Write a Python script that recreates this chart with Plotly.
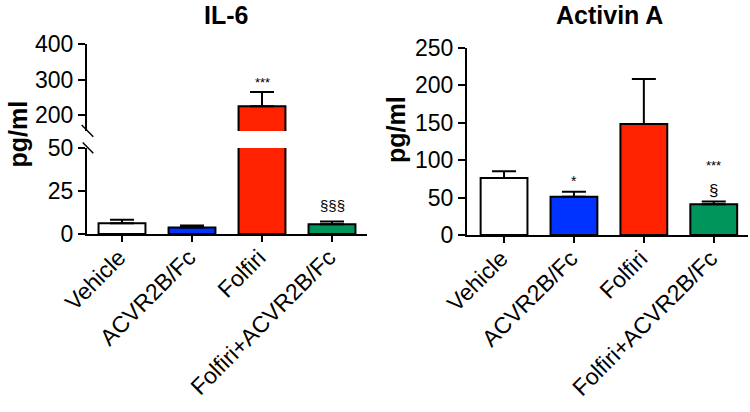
import plotly.graph_objects as go

categories = ["Vehicle", "ACVR2B/Fc", "Folfiri", "Folfiri+ACVR2B/Fc"]
colors = ["#FFFFFF", "#0033FF", "#FF2200", "#00955A"]

il6_values = [6.3, 3.8, 225, 5.7]
il6_errors = [2.0, 1.2, 40, 1.5]
il6_marks = ["", "", "***", "§§§"]

activin_values = [76, 51, 148, 41]
activin_errors = [9, 6.5, 60, 3.5]
activin_marks_star = ["", "*", "", "***"]
activin_marks_sect = ["", "", "", "§"]

il6_break_low = 50
il6_break_high = 155

FONT = "Liberation Sans, Arial, sans-serif"

W, H = 750, 412
def px(x):
    return x / W
def py(y):
    return 1 - y / H

fig = go.Figure()

def bar(vals, errs, xa, ya):
    return go.Bar(
        x=categories, y=vals,
        marker=dict(color=colors, line=dict(color="black", width=2)),
        error_y=dict(type="data", array=errs, arrayminus=[0]*len(errs), symmetric=False,
                     color="black", thickness=2, width=12),
        xaxis=xa, yaxis=ya, showlegend=False, hoverinfo="skip",
    )

# IL-6 lower segment
fig.add_trace(bar(il6_values, [e if v <= il6_break_low else 0 for v, e in zip(il6_values, il6_errors)], "x", "y"))
# IL-6 upper segment
up_vals = [v if v > il6_break_high else None for v in il6_values]
up_errs = [e if v > il6_break_high else 0 for v, e in zip(il6_values, il6_errors)]
fig.add_trace(bar(up_vals, up_errs, "x2", "y2"))
# Activin A
fig.add_trace(bar(activin_values, activin_errors, "x3", "y3"))

axis_common = dict(showline=True, linecolor="black", linewidth=2, ticks="outside",
                   tickcolor="black", tickwidth=2, showgrid=False, zeroline=False,
                   automargin=False)
yfont = dict(family=FONT, size=23, color="black")
xfont = dict(family=FONT, size=23, color="black")
xlab = dict(tickangle=-45, ticklen=6, tickfont=xfont, ticklabelstandoff=-7, ticklabelshift=-3)

fig.update_layout(
    width=W, height=H, margin=dict(l=0, r=0, t=0, b=0, autoexpand=False),
    paper_bgcolor="white", plot_bgcolor="rgba(0,0,0,0)",
    bargap=0.33,
    xaxis=dict(domain=[px(87), px(367)], range=[-0.5, 3.5], anchor="y", **xlab, **axis_common),
    yaxis=dict(domain=[py(234), py(148)], range=[0, il6_break_low], anchor="x",
               tickvals=[0, 25, 50], ticklen=7, tickfont=yfont, **axis_common),
    xaxis2=dict(domain=[px(87), px(367)], range=[-0.5, 3.5], anchor="y2",
                visible=False, matches="x", automargin=False),
    yaxis2=dict(domain=[py(131), py(44)], range=[il6_break_high, 400], anchor="x2",
                tickvals=[200, 300, 400], ticklen=7, tickfont=yfont, **axis_common),
    xaxis3=dict(domain=[px(467), px(748)], range=[-0.53, 3.49], anchor="y3", **xlab, **axis_common),
    yaxis3=dict(domain=[py(235), py(47.5)], range=[0, 250], anchor="x3",
                tickvals=[0, 50, 100, 150, 200, 250], ticklen=7, tickfont=yfont, **axis_common),
)

def label(text, x, y, size, angle=0):
    return dict(text=text, x=px(x), y=py(y), xref="paper", yref="paper",
                xanchor="center", yanchor="middle", textangle=angle,
                showarrow=False, font=dict(family=FONT, size=size, color="black"))

anns = [
    label("<b>IL-6</b>", 226, 15, 25),
    label("<b>Activin A</b>", 609, 15, 25),
    label("<b>pg/ml</b>", 17.5, 134, 25, -90),
    label("<b>pg/ml</b>", 396, 130, 25, -90),
]

def mark(text, xcat, yval, xref, yref, size, shift):
    return dict(text=text, x=xcat, y=yval, xref=xref, yref=yref, xanchor="center",
                yanchor="bottom", yshift=shift, showarrow=False,
                font=dict(family=FONT, size=size, color="black"))

# significance marks
for i, m in enumerate(il6_marks):
    if not m:
        continue
    v = il6_values[i] + il6_errors[i]
    if il6_values[i] > il6_break_high:
        anns.append(mark(m, categories[i], v, "x2", "y2", 13, 0))
    else:
        anns.append(mark(m, categories[i], v, "x", "y", 15, 6))
for i, m in enumerate(activin_marks_star):
    if not m:
        continue
    v = activin_values[i] + activin_errors[i]
    shift = 27 if activin_marks_sect[i] else 1
    anns.append(mark(m, categories[i], v, "x3", "y3", 13 if len(m) > 1 else 14, shift))
for i, m in enumerate(activin_marks_sect):
    if not m:
        continue
    v = activin_values[i] + activin_errors[i]
    anns.append(mark(m, categories[i], v, "x3", "y3", 17, 0))
fig.update_layout(annotations=anns)

# axis break marks
for (x0, y0, x1, y1) in [(81.7, 125, 93.3, 136.7), (82.7, 142.5, 93.3, 153.3)]:
    fig.add_shape(type="line", xref="paper", yref="paper",
                  x0=px(x0), y0=py(y0), x1=px(x1), y1=py(y1),
                  line=dict(color="black", width=1.5))

fig.write_html("out.html", config={"displayModeBar": False},
               post_script="document.body.style.margin='0';")
